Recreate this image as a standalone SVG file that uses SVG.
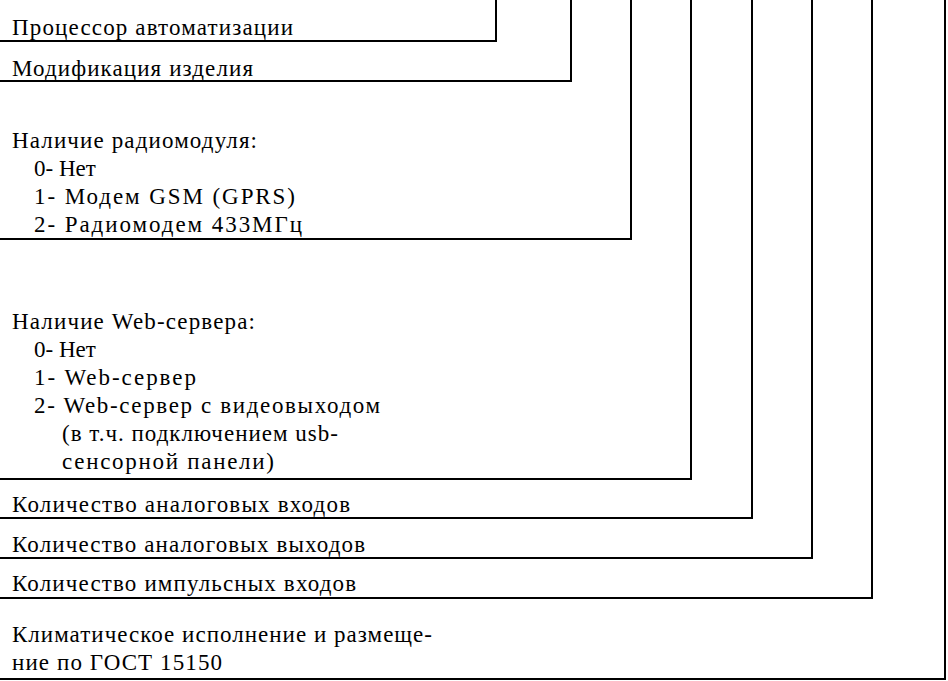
<svg xmlns="http://www.w3.org/2000/svg" width="948" height="681" viewBox="0 0 948 681">
<style>
text{font-family:'Liberation Serif','Times New Roman',Times,serif;font-size:23px;fill:#000}
.c{fill:none;stroke:#000;stroke-width:2}
</style>
<rect width="948" height="681" fill="#fff"/>
<g id="connectors">
<polyline class="c" points="496,0 496,41 0,41"/>
<polyline class="c" points="571,0 571,81 0,81"/>
<polyline class="c" points="631,0 631,239 0,239"/>
<polyline class="c" points="691,0 691,479 0,479"/>
<polyline class="c" points="752,0 752,518 0,518"/>
<polyline class="c" points="812,0 812,558 0,558"/>
<polyline class="c" points="872,0 872,598 0,598"/>
<polyline class="c" points="945,0 945,679 0,679"/>
</g>
<g id="n1" font-family="Liberation Serif"><text x="12" y="35" textLength="281">Процессор автоматизации</text></g>
<g id="n2" font-family="Liberation Serif"><text x="12" y="76" textLength="241">Модификация изделия</text></g>
<g id="n3" font-family="Liberation Serif"><text x="12" y="148" textLength="245">Наличие радиомодуля:</text>
<text x="34" y="176">0- Нет</text><text x="34" y="204" textLength="261">1- Модем GSM (GPRS)</text><text x="34" y="232" textLength="268">2- Радиомодем 433МГц</text></g>
<g id="n4" font-family="Liberation Serif"><text x="12" y="329" textLength="243">Наличие Web-сервера:</text>
<text x="34" y="357">0- Нет</text><text x="34" y="385" textLength="162">1- Web-сервер</text><text x="34" y="413" textLength="346">2- Web-сервер с видеовыходом</text>
<text x="62" y="441" textLength="276">(в т.ч. подключением usb-</text><text x="62" y="469" textLength="212">сенсорной панели)</text></g>
<g id="n5" font-family="Liberation Serif"><text x="12" y="512" textLength="338">Количество аналоговых входов</text></g>
<g id="n6" font-family="Liberation Serif"><text x="12" y="552" textLength="353">Количество аналоговых выходов</text></g>
<g id="n7" font-family="Liberation Serif"><text x="12" y="591" textLength="344">Количество импульсных входов</text></g>
<g id="n8" font-family="Liberation Serif"><text x="12" y="642" textLength="420">Климатическое исполнение и размеще-</text><text x="12" y="670" textLength="210">ние по ГОСТ 15150</text></g>
</svg>
